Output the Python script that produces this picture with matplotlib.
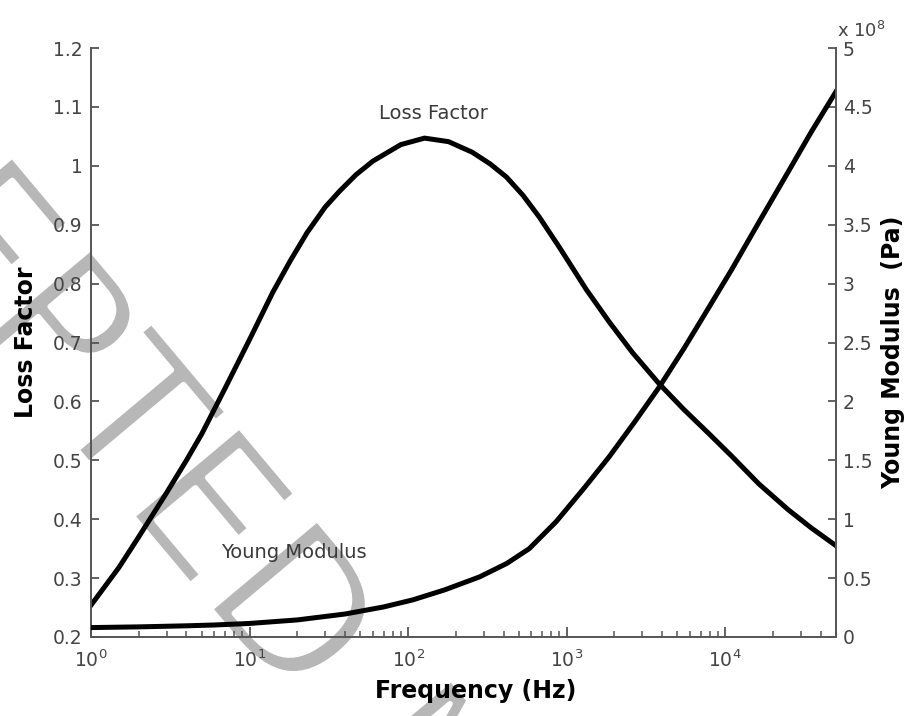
import matplotlib
matplotlib.use('Agg')
import matplotlib.pyplot as plt
import matplotlib.patheffects as pe
from matplotlib.ticker import NullFormatter

# values
freq_lf = [1, 1.5, 2, 3, 4, 5, 7, 10, 14, 18, 23, 30, 37, 47, 60, 90, 127,
           180, 254, 330, 417, 530, 672, 898, 1330, 1855, 2600, 3830, 5500,
           7910, 11000, 16300, 25000, 35000, 50000]
loss_factor = [0.254, 0.318, 0.37, 0.445, 0.50, 0.545, 0.622, 0.705, 0.785,
               0.838, 0.886, 0.93, 0.957, 0.985, 1.008, 1.036, 1.047, 1.041,
               1.023, 1.003, 0.981, 0.95, 0.913, 0.862, 0.79, 0.735, 0.683,
               0.630, 0.586, 0.545, 0.507, 0.46, 0.416, 0.385, 0.355]

freq_ym = [1, 2, 4, 6, 10, 20, 40, 70, 107, 170, 282, 420, 581, 860, 1300,
           1855, 2700, 3830, 5500, 7910, 11000, 16300, 25000, 35000, 50000]
young_modulus = [0.08, 0.086, 0.095, 0.102, 0.115, 0.145, 0.195, 0.255, 0.315,
                 0.40, 0.51, 0.625, 0.75, 0.98, 1.27, 1.53, 1.83, 2.12, 2.45,
                 2.80, 3.12, 3.52, 3.95, 4.29, 4.63]  # x 1e8 Pa

lf_ticks = [0.2, 0.3, 0.4, 0.5, 0.6, 0.7, 0.8, 0.9, 1.0, 1.1, 1.2]
lf_labels = ['0.2', '0.3', '0.4', '0.5', '0.6', '0.7', '0.8', '0.9', '1', '1.1', '1.2']
ym_ticks = [0, 0.5, 1, 1.5, 2, 2.5, 3, 3.5, 4, 4.5, 5]
ym_labels = ['0', '0.5', '1', '1.5', '2', '2.5', '3', '3.5', '4', '4.5', '5']

W, H = 909, 716
fig = plt.figure(figsize=(W / 100, H / 100), dpi=100)

# watermark behind everything, glyphs thinned with a white edge
wm = dict(rotation=-50, rotation_mode='anchor', va='baseline', fontsize=138,
          color='#b7b7b7', zorder=-1,
          path_effects=[pe.Stroke(linewidth=4.0, foreground='white')])
fig.text(45 / W, 1 - 412 / H, 'ACCEP', ha='right', **wm)
fig.text(45 / W, 1 - 412 / H, 'TED MANUSCRIPT', ha='left', **wm)

ax = fig.add_axes([91 / W, 1 - 637 / H, 745 / W, 589 / H])
ax.set_facecolor('none')
ax2 = ax.twinx()

ax.semilogx(freq_lf, loss_factor, color='k', lw=3.6)
ax2.plot(freq_ym, young_modulus, color='k', lw=3.6)

ax.set_xlim(1, 5e4)
ax.set_ylim(0.2, 1.2)
ax2.set_ylim(0, 5)

spine_c = '#555555'
label_c = '#444444'
for a in (ax, ax2):
    a.spines['top'].set_visible(False)
    for s in a.spines.values():
        s.set_color(spine_c)
        s.set_linewidth(1.4)
ax.spines['right'].set_visible(False)
ax2.spines['left'].set_visible(False)
ax2.spines['bottom'].set_visible(False)

ax.set_yticks(lf_ticks)
ax.set_yticklabels(lf_labels)
ax2.set_yticks(ym_ticks)
ax2.set_yticklabels(ym_labels)
ax.xaxis.set_minor_formatter(NullFormatter())

ax.tick_params(axis='y', direction='in', length=6, width=1.3, color=spine_c,
               labelcolor=label_c, labelsize=13.5, pad=6)
ax2.tick_params(axis='y', direction='in', length=6, width=1.3, color=spine_c,
                labelcolor=label_c, labelsize=13.5, pad=5)
ax.tick_params(axis='x', which='major', direction='in', length=7, width=1.3,
               color=spine_c, labelcolor=label_c, labelsize=13.5, pad=9, top=False)
ax.tick_params(axis='x', which='minor', direction='in', length=4, width=1.1,
               color=spine_c, top=False)

ax.set_xlabel('Frequency (Hz)', fontsize=17, fontweight='bold')
ax.xaxis.set_label_coords(0.517, -0.071)
ax.set_ylabel('Loss Factor', fontsize=17, fontweight='bold')
ax.yaxis.set_label_coords(-0.071, 0.5)
ax2.set_ylabel('Young Modulus  (Pa)', fontsize=17, fontweight='bold')
ax2.yaxis.set_label_coords(1.0604, 0.484)

fig.text(837 / W, 1 - 37 / H, r'x 10$^{8}$', fontsize=13, color=label_c,
         ha='left', va='baseline')

ax.text(0.459, 0.888, 'Loss Factor', transform=ax.transAxes, fontsize=14,
        color='#3a3a3a', ha='center', va='center')
ax.text(0.272, 0.143, 'Young Modulus', transform=ax.transAxes, fontsize=14,
        color='#3a3a3a', ha='center', va='center')

fig.savefig('out.png', dpi=100)
